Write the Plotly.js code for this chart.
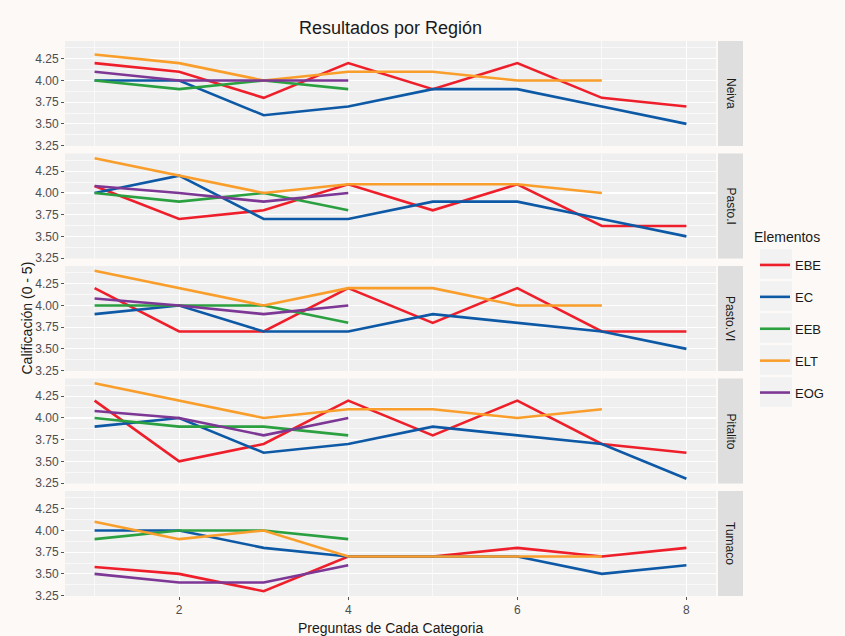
<!DOCTYPE html>
<html><head><meta charset="utf-8">
<script src="https://cdn.plot.ly/plotly-3.0.1.min.js"></script>
<style>html,body{margin:0;padding:0;background:#FCF9F7;}</style>
</head><body><div id="chart" style="width:845px;height:636px;"></div>
<script>
// ---- data ----
const regions = ['Neiva', 'Pasto.I', 'Pasto.VI', 'Pitalito', 'Tumaco'];
const elements = ['EBE', 'EC', 'EEB', 'ELT', 'EOG'];
const preguntas = [1, 2, 3, 4, 5, 6, 7, 8];

const neiva_EBE = [4.2, 4.1, 3.8, 4.2, 3.9, 4.2, 3.8, 3.7];
const neiva_EC  = [4.0, 4.0, 3.6, 3.7, 3.9, 3.9, 3.7, 3.5];
const neiva_EEB = [4.0, 3.9, 4.0, 3.9];
const neiva_ELT = [4.3, 4.2, 4.0, 4.1, 4.1, 4.0, 4.0];
const neiva_EOG = [4.1, 4.0, 4.0, 4.0];

const pastoI_EBE = [4.08, 3.7, 3.8, 4.1, 3.8, 4.1, 3.62, 3.62];
const pastoI_EC  = [4.0, 4.2, 3.7, 3.7, 3.9, 3.9, 3.7, 3.5];
const pastoI_EEB = [4.0, 3.9, 4.0, 3.8];
const pastoI_ELT = [4.4, 4.2, 4.0, 4.1, 4.1, 4.1, 4.0];
const pastoI_EOG = [4.08, 4.0, 3.9, 4.0];

const pastoVI_EBE = [4.2, 3.7, 3.7, 4.2, 3.8, 4.2, 3.7, 3.7];
const pastoVI_EC  = [3.9, 4.0, 3.7, 3.7, 3.9, 3.8, 3.7, 3.5];
const pastoVI_EEB = [4.0, 4.0, 4.0, 3.8];
const pastoVI_ELT = [4.4, 4.2, 4.0, 4.2, 4.2, 4.0, 4.0];
const pastoVI_EOG = [4.08, 4.0, 3.9, 4.0];

const pitalito_EBE = [4.2, 3.5, 3.7, 4.2, 3.8, 4.2, 3.7, 3.6];
const pitalito_EC  = [3.9, 4.0, 3.6, 3.7, 3.9, 3.8, 3.7, 3.3];
const pitalito_EEB = [4.0, 3.9, 3.9, 3.8];
const pitalito_ELT = [4.4, 4.2, 4.0, 4.1, 4.1, 4.0, 4.1];
const pitalito_EOG = [4.08, 4.0, 3.8, 4.0];

const tumaco_EBE = [3.58, 3.5, 3.3, 3.7, 3.7, 3.8, 3.7, 3.8];
const tumaco_EC  = [4.0, 4.0, 3.8, 3.7, 3.7, 3.7, 3.5, 3.6];
const tumaco_EEB = [3.9, 4.0, 4.0, 3.9];
const tumaco_ELT = [4.1, 3.9, 4.0, 3.7, 3.7, 3.7, 3.7];
const tumaco_EOG = [3.5, 3.4, 3.4, 3.6];

const yTickVals = [3.25, 3.5, 3.75, 4.0, 4.25];
const yTickText = ['3.25', '3.50', '3.75', '4.00', '4.25'];
const xTickVals = [2, 4, 6, 8];

const seriesByRegion = [
  [neiva_EBE, neiva_EC, neiva_EEB, neiva_ELT, neiva_EOG],
  [pastoI_EBE, pastoI_EC, pastoI_EEB, pastoI_ELT, pastoI_EOG],
  [pastoVI_EBE, pastoVI_EC, pastoVI_EEB, pastoVI_ELT, pastoVI_EOG],
  [pitalito_EBE, pitalito_EC, pitalito_EEB, pitalito_ELT, pitalito_EOG],
  [tumaco_EBE, tumaco_EC, tumaco_EEB, tumaco_ELT, tumaco_EOG]
];
const colors = ['#EE1F2A', '#0D59A6', '#2BA040', '#F99E2B', '#7D3795'];

// ---- layout geometry ----
const FONT = 'Liberation Sans, Arial, sans-serif';
const W = 845, H = 636;
const mL = 65, mR = 129, mT = 41, mB = 40;
const plotW = W - mL - mR, plotH = H - mT - mB;
const panelH = 105, step = 112.5;

const traces = [];
const layout = {
  width: W, height: H,
  margin: {l: mL, r: mR, t: mT, b: mB, pad: 0},
  paper_bgcolor: '#FCF9F7',
  plot_bgcolor: '#EFEFEF',
  font: {family: FONT, color: '#4D4D4D', size: 12},
  title: {text: 'Resultados por Región', x: 0.5, xref: 'paper', xanchor: 'center',
          y: 1 - 28 / H, yref: 'container', yanchor: 'middle',
          font: {family: FONT, size: 18, color: '#1A1A1A'}},
  showlegend: true,
  legend: {
    x: (755 - mL) / plotW, xanchor: 'left', y: (H - mB - 250) / plotH, yanchor: 'top',
    bgcolor: 'rgba(0,0,0,0)', tracegroupgap: 12, itemwidth: 30,
    font: {family: FONT, size: 13, color: '#1A1A1A'}
  },
  shapes: [], annotations: []
};

for (let k = 0; k < regions.length; k++) {
  const top = mT + step * k, bottom = top + panelH;
  const d0 = (H - mB - bottom) / plotH, d1 = (H - mB - top) / plotH;
  const sfx = k === 0 ? '' : String(k + 1);
  const last = k === regions.length - 1;
  layout['xaxis' + sfx] = {
    domain: [0, 1], anchor: 'y' + sfx, range: [0.65, 8.35],
    tickvals: xTickVals, showticklabels: last, ticks: last ? 'outside' : '',
    ticklen: 3, tickcolor: '#555', showgrid: true, gridcolor: '#FFFFFF', gridwidth: 1.2,
    zeroline: false, showline: false, tickfont: {size: 12, color: '#4D4D4D'},
    minor: {dtick: 1, tick0: 0, showgrid: true, gridcolor: '#FFFFFF', gridwidth: 0.6}
  };
  layout['yaxis' + sfx] = {
    domain: [Math.max(0, d0), Math.min(1, d1)], anchor: 'x' + sfx, range: [3.245, 4.455],
    tickvals: yTickVals, ticktext: yTickText, ticks: 'outside', ticklen: 3, tickcolor: '#555',
    showgrid: true, gridcolor: '#FFFFFF', gridwidth: 1.2, zeroline: false, showline: false,
    tickfont: {size: 12, color: '#4D4D4D'},
    minor: {tickvals: [3.375, 3.625, 3.875, 4.125, 4.375], showgrid: true, gridcolor: '#FFFFFF', gridwidth: 0.6}
  };
  // strip
  layout.shapes.push({type: 'rect', xref: 'paper', yref: 'paper',
    x0: 1 + 2 / plotW, x1: 1 + 27 / plotW, y0: Math.max(0, d0), y1: Math.min(1, d1),
    fillcolor: '#DEDEDE', line: {width: 0}, layer: 'below'});
  layout.annotations.push({xref: 'paper', yref: 'paper', x: 1 + 14.5 / plotW, y: (d0 + d1) / 2,
    text: regions[k], textangle: 90, showarrow: false, xanchor: 'center', yanchor: 'middle',
    font: {family: FONT, size: 12, color: '#1A1A1A'}});

  for (let e = 0; e < elements.length; e++) {
    const vals = seriesByRegion[k][e];
    traces.push({
      type: 'scatter', mode: 'lines',
      x: preguntas.slice(0, vals.length), y: vals,
      xaxis: 'x' + sfx, yaxis: 'y' + sfx,
      name: elements[e], legendgroup: elements[e], showlegend: k === 0,
      line: {color: colors[e], width: 2.6}, hoverinfo: 'x+y+name'
    });
  }
}

// legend key backgrounds
for (let e = 0; e < elements.length; e++) {
  const cy = 264 + 32 * e;
  layout.shapes.push({type: 'rect', xref: 'paper', yref: 'paper',
    x0: (760 - mL) / plotW, x1: (792 - mL) / plotW,
    y0: (H - mB - (cy + 15)) / plotH, y1: (H - mB - (cy - 15)) / plotH,
    fillcolor: '#F2F2F2', line: {width: 0}, layer: 'below'});
}
// legend title
layout.annotations.push({xref: 'paper', yref: 'paper', x: (752 - mL) / plotW, y: (H - mB - 237) / plotH,
  text: 'Elementos', showarrow: false, xanchor: 'left', yanchor: 'middle',
  font: {family: FONT, size: 14, color: '#1A1A1A'}});

// axis titles
layout.annotations.push({xref: 'paper', yref: 'paper', x: 0.5, y: (H - mB - 628) / plotH,
  text: 'Preguntas de Cada Categoria', showarrow: false, xanchor: 'center', yanchor: 'middle',
  font: {family: FONT, size: 14, color: '#1A1A1A'}});
layout.annotations.push({xref: 'paper', yref: 'paper', x: (26 - mL) / plotW, y: 0.5,
  text: 'Calificación (0 - 5)', textangle: -90, showarrow: false, xanchor: 'center', yanchor: 'middle',
  font: {family: FONT, size: 14, color: '#1A1A1A'}});

Plotly.newPlot('chart', traces, layout, {displayModeBar: false, staticPlot: true});
</script>
</body></html>
